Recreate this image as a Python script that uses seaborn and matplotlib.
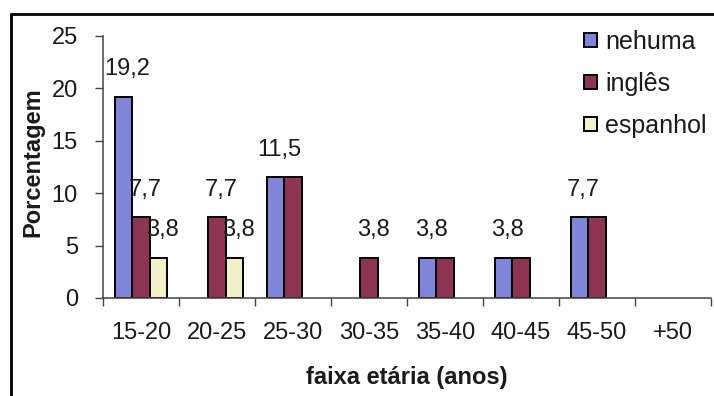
import matplotlib
matplotlib.use("Agg")
import matplotlib.pyplot as plt
from matplotlib.lines import Line2D
from matplotlib.patches import Patch
import numpy as np
import pandas as pd
import seaborn as sns

# Age brackets and share (%) of respondents by foreign language spoken
categories = ["15-20", "20-25", "25-30", "30-35", "35-40", "40-45", "45-50", "+50"]
series = ["nehuma", "inglês", "espanhol"]
nehuma = [19.2, 0, 11.5, 0, 3.8, 3.8, 7.7, 0]
ingles = [7.7, 7.7, 11.5, 3.8, 3.8, 3.8, 7.7, 0]
espanhol = [3.8, 3.8, 0, 0, 0, 0, 0, 0]
y_ticks = [0, 5, 10, 15, 20, 25]

# Bars that carry a value label: (age bracket, series)
labelled = [
    ("15-20", "nehuma"), ("15-20", "inglês"), ("15-20", "espanhol"),
    ("20-25", "inglês"), ("20-25", "espanhol"),
    ("25-30", "nehuma"), ("30-35", "inglês"),
    ("35-40", "nehuma"), ("40-45", "nehuma"), ("45-50", "nehuma"),
]

colors = ["#8085DA", "#8E3553", "#F3F1C9"]
ink = "#1a1a1a"

df = pd.DataFrame({
    "faixa": categories * 3,
    "idioma": [s for s in series for _ in categories],
    "pct": nehuma + ingles + espanhol,
})

sns.set_theme(style="white")
plt.rcParams["font.family"] = ["Liberation Sans", "DejaVu Sans"]
plt.rcParams["text.color"] = ink

fig = plt.figure(figsize=(7.14, 3.96), dpi=100)
ax = fig.add_axes([103 / 714, 98 / 396, 608 / 714, 262 / 396])

sns.barplot(data=df, x="faixa", y="pct", hue="idioma", order=categories,
            hue_order=series, palette=colors, saturation=1, width=0.69,
            gap=0, edgecolor="black", linewidth=1.4, legend=False,
            errorbar=None, ax=ax)

# Hide zero-height bars so they leave no outline on the axis
for patch in ax.patches:
    if patch.get_height() == 0:
        patch.set_visible(False)

# Value labels above the chosen bars
for cat, ser in labelled:
    i = series.index(ser)
    j = categories.index(cat)
    bars = sorted(ax.containers[i], key=lambda b: b.get_x())
    bar = bars[j]
    val = bar.get_height()
    ax.annotate(f"{val:.1f}".replace(".", ","),
                (bar.get_x() + bar.get_width() / 2, val),
                xytext=(3, 20), textcoords="offset points",
                ha="center", va="center", fontsize=17, color=ink)

ax.set_xlim(-0.5, len(categories) - 0.5)
ax.set_ylim(0, 25)
ax.set_yticks(y_ticks)
ax.set_yticklabels([str(v) for v in y_ticks], fontsize=17, color=ink)
ax.set_xticks(range(len(categories)))
ax.set_xticklabels(categories, fontsize=17, color=ink)
ax.set_xticks(np.arange(-0.5, len(categories), 1.0), minor=True)
ax.tick_params(axis="x", which="major", length=0, pad=17)
ax.tick_params(axis="x", which="minor", length=6, width=1, color="#444444",
               direction="out", bottom=True)
ax.tick_params(axis="y", length=6, width=1, color="#444444", direction="out",
               left=True, pad=12)

for side in ["top", "right"]:
    ax.spines[side].set_visible(False)
for side in ["left", "bottom"]:
    ax.spines[side].set_color("#444444")
    ax.spines[side].set_linewidth(1.1)

ax.set_xlabel("faixa etária (anos)", fontsize=17, fontweight="bold", color=ink)
ax.set_ylabel("Porcentagem", fontsize=17, fontweight="bold", color=ink)
ax.xaxis.set_label_coords(0.5, -0.258)
ax.yaxis.set_label_coords(-0.097, 0.52)

handles = [Patch(facecolor=c, edgecolor="black", linewidth=1.4) for c in colors]
fig.legend(handles, series, loc="upper left",
           bbox_to_anchor=(584 / 714, 1 - 30 / 396), frameon=False,
           fontsize=18, handlelength=0.5, handleheight=0.5,
           handletextpad=0.35, labelspacing=0.72, borderpad=0,
           borderaxespad=0)

# Outer chart frame (left and top edges)
fig.add_artist(Line2D([11 / 714, 11 / 714], [0, 1 - 14 / 396],
                      transform=fig.transFigure, color="black", lw=2))
fig.add_artist(Line2D([11 / 714, 1], [1 - 14 / 396, 1 - 14 / 396],
                      transform=fig.transFigure, color="black", lw=2))

fig.savefig("out.png", dpi=100, facecolor="white")
